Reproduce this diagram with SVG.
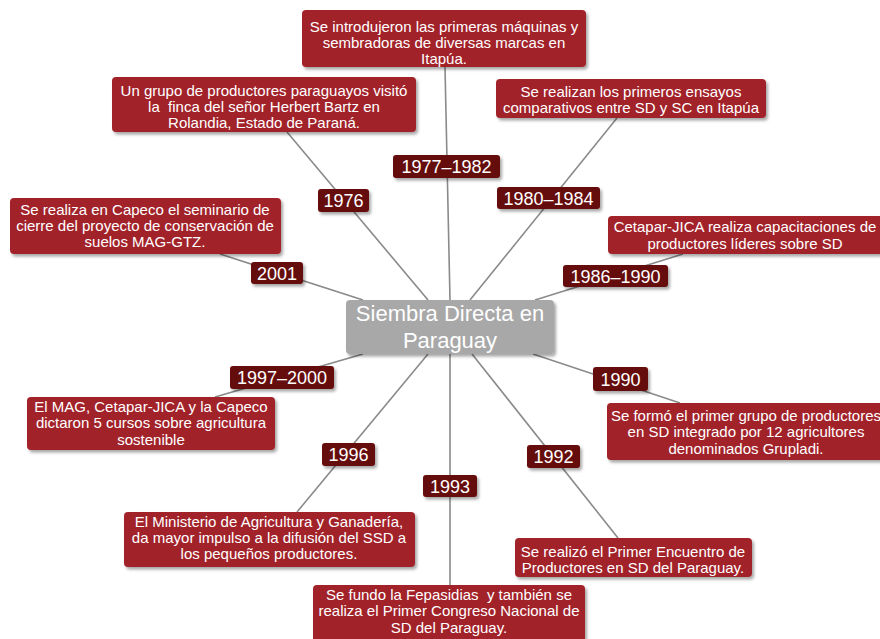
<svg xmlns="http://www.w3.org/2000/svg" width="880" height="639" viewBox="0 0 880 639">
<defs>
<filter id="sh" x="-10%" y="-20%" width="130%" height="150%">
<feDropShadow dx="2" dy="2.5" stdDeviation="1.5" flood-color="#000" flood-opacity="0.35"/>
</filter>
<style>
.ev{fill:#a22229;filter:url(#sh)}
.yr{fill:#650909;filter:url(#sh)}
.ctr{fill:#a8a8a8;filter:url(#sh)}
.t{font-family:"Liberation Sans",Arial,sans-serif;font-size:15px;fill:#fff;text-anchor:middle;white-space:pre}
.y{font-family:"Liberation Sans",Arial,sans-serif;font-size:18px;fill:#fff;text-anchor:middle}
.c{font-family:"Liberation Sans",Arial,sans-serif;font-size:22px;fill:#fff;text-anchor:middle}
.ln{stroke:#8a8a8a;stroke-width:1.6;fill:none}
</style>
</defs>
<rect width="880" height="639" fill="#fff"/>
<g id="connectors">
<line class="ln" x1="445" y1="67" x2="450" y2="300"/>
<line class="ln" x1="287" y1="132" x2="428" y2="300"/>
<line class="ln" x1="617" y1="118" x2="470" y2="300"/>
<line class="ln" x1="683" y1="254" x2="535" y2="300"/>
<line class="ln" x1="220" y1="254" x2="363" y2="300"/>
<line class="ln" x1="363" y1="354" x2="215" y2="397"/>
<line class="ln" x1="428" y1="354" x2="297" y2="512"/>
<line class="ln" x1="450" y1="354" x2="450" y2="585"/>
<line class="ln" x1="472" y1="354" x2="618" y2="538"/>
<line class="ln" x1="533" y1="354" x2="680" y2="403"/>
</g>
<g id="center">
<rect class="ctr" x="346" y="300" width="208" height="54" rx="4"/>
<text class="c" x="450" y="321">Siembra Directa en</text>
<text class="c" x="450" y="348">Paraguay</text>
</g>
<g id="ev-maquinas">
<rect class="ev" x="302" y="10" width="284" height="57" rx="4"/>
<text class="t" x="444" y="32">Se introdujeron las primeras máquinas y</text>
<text class="t" x="444" y="48">sembradoras de diversas marcas en</text>
<text class="t" x="444" y="64">Itapúa.</text>
</g>
<g id="ev-bartz">
<rect class="ev" x="112" y="77" width="304" height="55" rx="4"/>
<text class="t" x="264" y="96">Un grupo de productores paraguayos visitó</text>
<text class="t" x="264" y="112">la  finca del señor Herbert Bartz en</text>
<text class="t" x="264" y="128">Rolandia, Estado de Paraná.</text>
</g>
<g id="ev-ensayos">
<rect class="ev" x="496" y="79" width="270" height="39" rx="4"/>
<text class="t" x="631" y="97">Se realizan los primeros ensayos</text>
<text class="t" x="631" y="113">comparativos entre SD y SC en Itapúa</text>
</g>
<g id="ev-capeco">
<rect class="ev" x="10" y="198" width="271" height="56" rx="4"/>
<text class="t" x="145" y="215">Se realiza en Capeco el seminario de</text>
<text class="t" x="145" y="231">cierre del proyecto de conservación de</text>
<text class="t" x="145" y="247">suelos MAG-GTZ.</text>
</g>
<g id="ev-cetapar">
<rect class="ev" x="608" y="216" width="282" height="38" rx="4"/>
<text class="t" x="745" y="232">Cetapar-JICA realiza capacitaciones de</text>
<text class="t" x="745" y="249">productores líderes sobre SD</text>
</g>
<g id="ev-mag">
<rect class="ev" x="27" y="397" width="248" height="53" rx="4"/>
<text class="t" x="151" y="412">El MAG, Cetapar-JICA y la Capeco</text>
<text class="t" x="151" y="428">dictaron 5 cursos sobre agricultura</text>
<text class="t" x="151" y="445">sostenible</text>
</g>
<g id="ev-grupladi">
<rect class="ev" x="607" y="403" width="280" height="57" rx="4"/>
<text class="t" x="746" y="421">Se formó el primer grupo de productores</text>
<text class="t" x="746" y="437">en SD integrado por 12 agricultores</text>
<text class="t" x="746" y="454">denominados Grupladi.</text>
</g>
<g id="ev-ministerio">
<rect class="ev" x="124" y="512" width="291" height="55" rx="4"/>
<text class="t" x="269" y="527">El Ministerio de Agricultura y Ganadería,</text>
<text class="t" x="269" y="543">da mayor impulso a la difusión del SSD a</text>
<text class="t" x="269" y="559">los pequeños productores.</text>
</g>
<g id="ev-fepasidias">
<rect class="ev" x="313" y="585" width="272" height="62" rx="4"/>
<text class="t" x="449" y="600">Se fundo la Fepasidias  y también se</text>
<text class="t" x="449" y="616">realiza el Primer Congreso Nacional de</text>
<text class="t" x="449" y="633">SD del Paraguay.</text>
</g>
<g id="ev-encuentro">
<rect class="ev" x="515" y="538" width="237" height="39" rx="4"/>
<text class="t" x="633" y="557">Se realizó el Primer Encuentro de</text>
<text class="t" x="633" y="573">Productores en SD del Paraguay.</text>
</g>
<g id="y1976"><rect class="yr" x="318" y="189" width="51" height="23" rx="3"/><text class="y" x="343.5" y="207">1976</text></g>
<g id="y1977"><rect class="yr" x="393" y="155" width="107" height="23" rx="3"/><text class="y" x="446.5" y="173">1977–1982</text></g>
<g id="y1980"><rect class="yr" x="497" y="187" width="103" height="22" rx="3"/><text class="y" x="548.5" y="205">1980–1984</text></g>
<g id="y2001"><rect class="yr" x="251" y="262" width="52" height="22" rx="3"/><text class="y" x="277" y="280">2001</text></g>
<g id="y1986"><rect class="yr" x="563" y="265" width="105" height="22" rx="3"/><text class="y" x="615.5" y="283">1986–1990</text></g>
<g id="y1997"><rect class="yr" x="230" y="366" width="104" height="23" rx="3"/><text class="y" x="282" y="384">1997–2000</text></g>
<g id="y1990"><rect class="yr" x="593" y="367" width="55" height="24" rx="3"/><text class="y" x="620.5" y="386">1990</text></g>
<g id="y1996"><rect class="yr" x="322" y="443" width="53" height="23" rx="3"/><text class="y" x="348.5" y="461">1996</text></g>
<g id="y1992"><rect class="yr" x="527" y="445" width="53" height="23" rx="3"/><text class="y" x="553.5" y="463">1992</text></g>
<g id="y1993"><rect class="yr" x="423" y="475" width="54" height="22" rx="3"/><text class="y" x="450" y="493">1993</text></g>
</svg>
